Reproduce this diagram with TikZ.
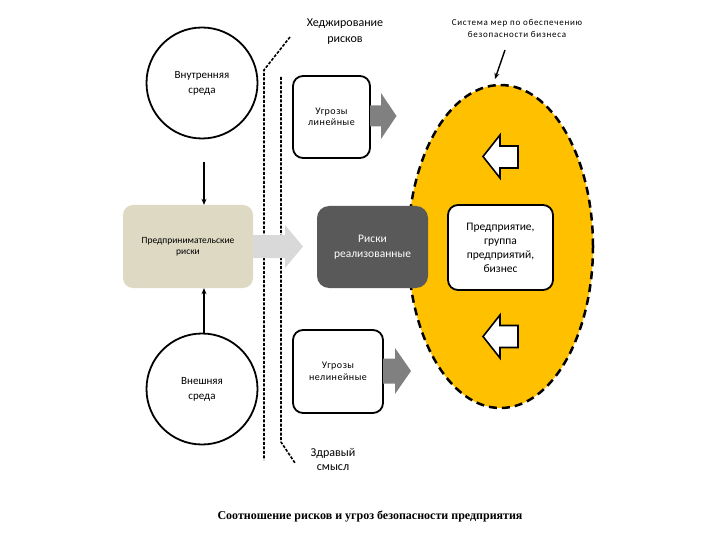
\documentclass[tikz,border=0pt]{standalone}
\usepackage{fontspec}
\setmainfont{Carlito}
\newfontfamily\capfont{Liberation Serif}
\newfontfamily\spacedfont[LetterSpace=8]{Carlito}
\newfontfamily\lightspaced[LetterSpace=5]{Carlito}
\usetikzlibrary{shapes.geometric,arrows.meta}
\definecolor{ellfill}{HTML}{FFC000}
\definecolor{beigefill}{HTML}{DDD9C3}
\definecolor{darkfill}{HTML}{595959}
\definecolor{grayarrow}{HTML}{808080}
\definecolor{lightarrow}{HTML}{D9D9D9}
\tikzset{
  circ/.style={circle,draw=black,line width=1.8pt,fill=white,minimum size=111pt,inner sep=0pt,align=center,font=\fontsize{11}{15}\selectfont},
  beigebox/.style={rectangle,rounded corners=10pt,fill=beigefill,minimum width=130pt,minimum height=83pt,inner sep=0pt,align=center,font=\fontsize{9.5}{11}\selectfont},
  darkbox/.style={rectangle,rounded corners=12pt,fill=darkfill,text=white,minimum width=111pt,minimum height=82pt,inner sep=0pt,align=center,font=\fontsize{11.5}{15}\selectfont},
  wbox/.style={rectangle,rounded corners=10pt,draw=black,line width=1.8pt,fill=white,inner sep=0pt,align=center},
  threat/.style={wbox,font=\lightspaced\fontsize{10}{11.5}\selectfont},
  ell/.style={ellipse,fill=ellfill,draw=black,line width=2.5pt,dash pattern=on 8pt off 5pt,minimum width=185pt,minimum height=323pt,inner sep=0pt},
  label/.style={align=center,inner sep=0pt},
  hedgeline/.style={draw=black,line width=1.6pt,dash pattern=on 3pt off 1.5pt},
  thinarrow/.style={draw=black,line width=1.4pt,-{Stealth[length=6pt,width=5pt]}},
  grayblock/.style={fill=grayarrow},
  lightblock/.style={fill=lightarrow},
  whiteblock/.style={fill=white,draw=black,line width=1.6pt,line join=miter},
}
\begin{document}
\begin{tikzpicture}[x=1pt,y=-1pt]
\useasboundingbox (0,0) rectangle (720,540);

% hedging lines
\draw[hedgeline] (290,37) -- (264,70) -- (264,460);
\draw[hedgeline] (281,77) -- (281,442) -- (295,463);

% ellipse
\node[ell] (ent) at (500.5,246.5) {};

% light gray block arrow
\path[lightblock] (253,235) -- (285,235) -- (285,225) -- (303,246.5) -- (285,268) -- (285,258) -- (253,258) -- cycle;

% nodes
\node[circ] (inner) at (202,83) {Внутренняя\\среда};
\node[circ] (outer) at (202,389) {Внешняя\\среда};
\node[beigebox] (risk) at (188,246.5) {Предпринимательские\\риски};
\node[darkbox] (real) at (372.5,247) {Риски\\реализованные};
\node[threat,minimum width=77pt,minimum height=82pt] (lin) at (331.5,117) {Угрозы\\линейные};
\node[threat,minimum width=90pt,minimum height=83pt] (nonlin) at (338,371.5) {Угрозы\\нелинейные};
\node[wbox,minimum width=105pt,minimum height=85pt,font=\fontsize{11.5}{14}\selectfont] (biz) at (500.5,247.5) {Предприятие,\\группа\\предприятий,\\бизнес};

% gray block arrows
\path[grayblock] (370,105.5) -- (381,105.5) -- (381,93) -- (396.5,116) -- (381,139) -- (381,126.5) -- (370,126.5) -- cycle;
\path[grayblock] (383,358.5) -- (395,358.5) -- (395,348) -- (411,371) -- (395,394) -- (395,383.5) -- (383,383.5) -- cycle;

% white block arrows
\draw[whiteblock] (518,146) -- (500,146) -- (500,135) -- (483,156.5) -- (500,178) -- (500,168) -- (518,168) -- cycle;
\draw[whiteblock] (518,325.5) -- (500,325.5) -- (500,315) -- (483,336.5) -- (500,358) -- (500,347.5) -- (518,347.5) -- cycle;

% labels
\node[label,font=\fontsize{12}{16}\selectfont] (hedge) at (345,32) {Хеджирование\\рисков};
\node[label,font=\spacedfont\fontsize{9}{12.5}\selectfont] (sys) at (517,28.5) {Система мер по обеспечению\\безопасности бизнеса};
\node[label,font=\fontsize{12}{14}\selectfont] (sense) at (333,459) {Здравый\\смысл};
\node[label,font=\capfont\bfseries\fontsize{12}{14}\selectfont] (cap) at (370,516) {Соотношение рисков и угроз безопасности предприятия};

% thin arrows
\coordinate (a1) at (204,162);
\coordinate (sysa) at (505,50);
\coordinate (syse) at (495,79);
\draw[thinarrow] (a1) -- (a1 |- risk.north);
\draw[thinarrow] (outer.north -| a1) -- (a1 |- risk.south);
\draw[thinarrow] (sysa) -- (syse);
\end{tikzpicture}
\end{document}
